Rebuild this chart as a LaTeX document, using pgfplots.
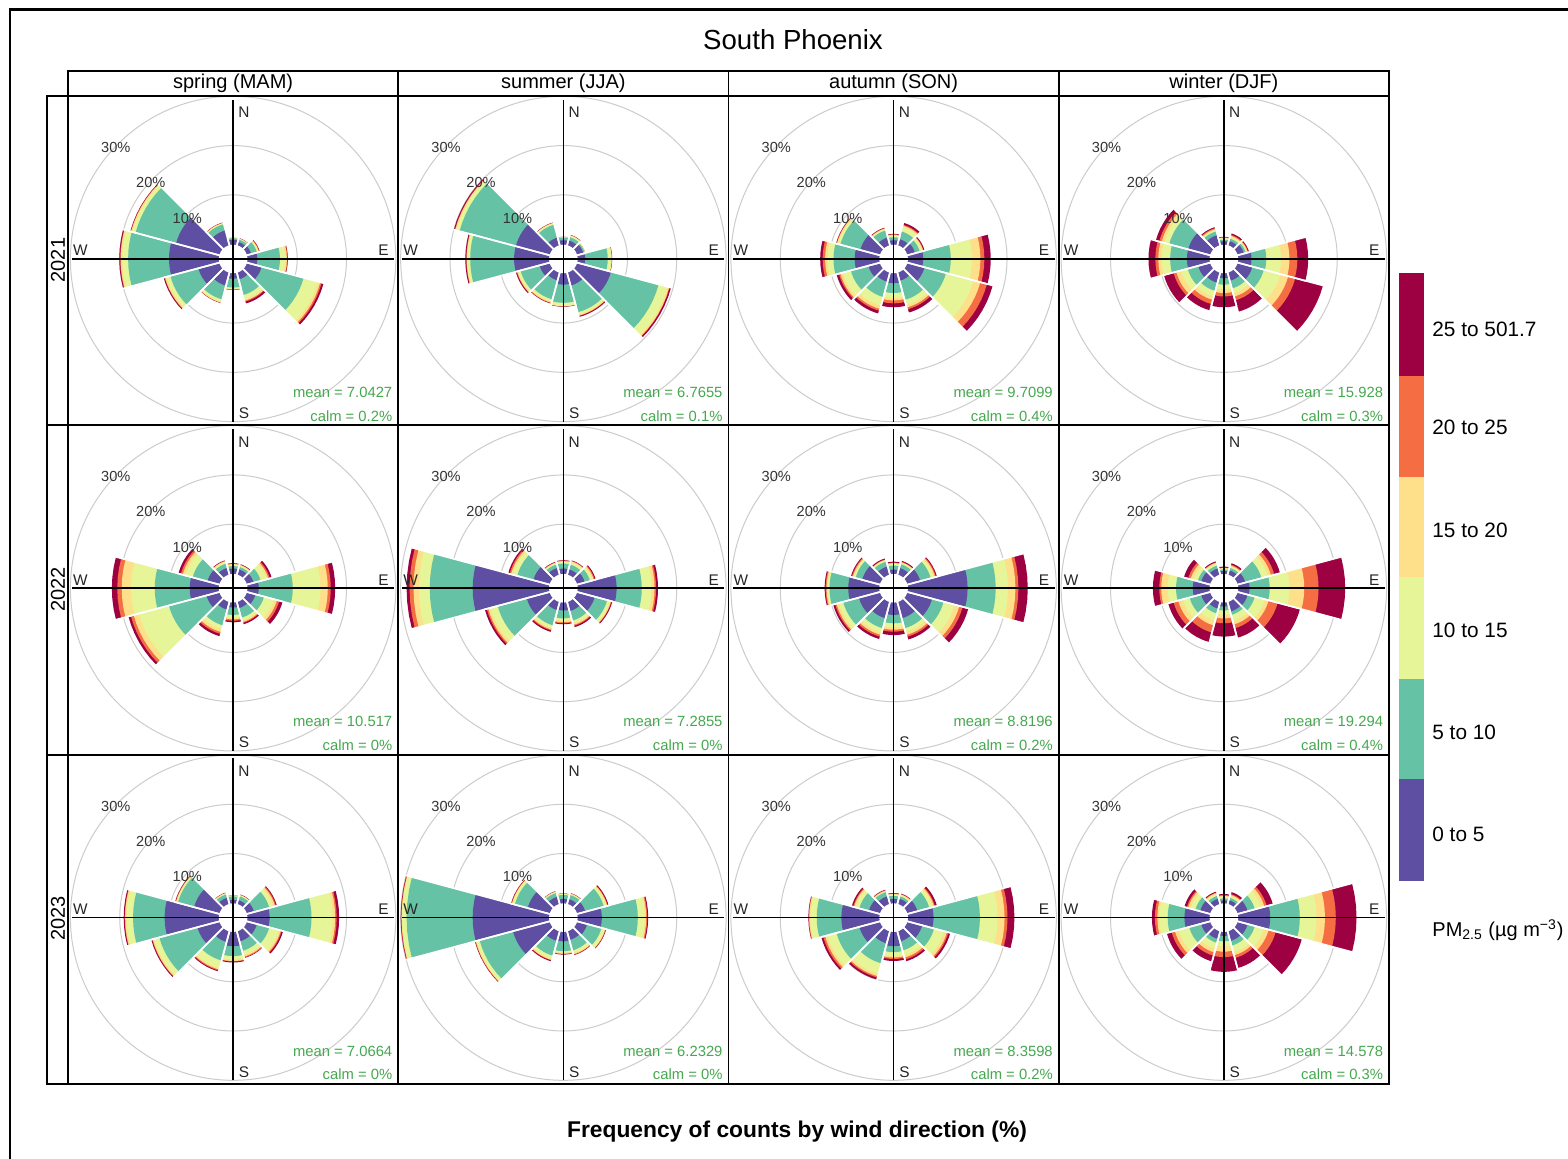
\documentclass[border=0pt]{standalone}
\usepackage{pgfplots}
\usepackage{pgfplotstable}
\pgfplotsset{compat=1.18}
\usepackage{fontspec}
\setmainfont{Liberation Sans}

\definecolor{cA}{HTML}{5E4FA2}
\definecolor{cB}{HTML}{66C2A5}
\definecolor{cC}{HTML}{E6F598}
\definecolor{cD}{HTML}{FEE08B}
\definecolor{cE}{HTML}{F46D43}
\definecolor{cF}{HTML}{9E0142}
\definecolor{statgreen}{HTML}{45A84F}
\definecolor{gridgray}{HTML}{CCCCCC}

% cumulative frequency (%) per wind sector: 0-5, 5-10, 10-15, 15-20, 20-25, 25-501.7
\pgfplotstableread{
d c1 c2 c3 c4 c5 c6
0 0.9 1.2 1.3 1.3 1.3 1.3
30 0.6 1.1 1.3 1.3 1.3 1.4
60 0.8 2.0 2.3 2.4 2.5 2.6
90 1.9 6.5 7.6 7.9 8.0 8.1
120 3.0 11.8 14.8 15.3 15.6 16.0
150 1.3 4.6 5.5 5.8 6.0 6.4
180 1.0 2.8 3.1 3.2 3.2 3.3
210 2.6 5.5 6.0 6.2 6.2 6.3
240 4.3 10.2 11.0 11.3 11.4 11.6
270 10.0 18.3 19.5 19.8 19.9 20.1
300 9.0 17.5 18.2 18.4 18.5 18.6
330 3.0 4.3 4.5 4.6 4.6 4.7
}\tSpA
\pgfplotstableread{
d c1 c2 c3 c4 c5 c6
0 0.8 1.3 1.4 1.4 1.5 1.5
30 0.9 1.6 1.9 2.0 2.0 2.1
60 1.2 1.5 1.6 1.6 1.6 1.6
90 1.4 6.0 6.7 6.8 6.8 6.9
120 7.0 17.0 18.9 19.2 19.3 19.6
150 2.6 8.2 8.7 8.9 9.0 9.2
180 2.2 5.9 6.5 6.6 6.6 6.7
210 1.5 5.5 6.0 6.2 6.3 6.4
240 2.0 6.0 6.5 6.7 6.8 7.0
270 7.0 15.9 16.5 16.6 16.7 16.9
300 7.0 18.8 19.5 19.7 19.8 20.0
330 1.5 4.2 4.5 4.6 4.6 4.7
}\tSuA
\pgfplotstableread{
d c1 c2 c3 c4 c5 c6
0 0.8 1.4 1.8 1.9 2.0 2.1
30 1.2 2.8 3.7 4.0 4.2 4.6
60 1.5 2.5 3.0 3.2 3.3 3.5
90 3.0 8.6 12.9 14.6 15.4 16.7
120 3.5 8.0 13.8 15.2 16.6 17.8
150 1.6 5.6 6.7 7.2 7.6 8.3
180 1.9 3.9 4.9 5.4 6.0 6.8
210 1.8 5.0 6.8 7.5 7.9 8.5
240 2.3 6.0 7.7 8.2 8.5 9.0
270 4.9 9.2 10.4 10.9 11.4 11.9
300 4.0 8.2 8.7 8.9 9.0 9.1
330 1.5 3.0 3.3 3.4 3.5 3.6
}\tAuA
\pgfplotstableread{
d c1 c2 c3 c4 c5 c6
0 0.6 0.9 1.1 1.3 1.4 1.5
30 0.8 1.3 1.6 1.9 2.1 2.4
60 1.2 1.6 1.8 2.0 2.1 2.3
90 2.6 5.6 8.6 10.3 11.9 14.1
120 3.0 5.4 8.9 10.5 12.0 17.8
150 1.6 3.2 4.2 4.9 5.7 8.1
180 0.9 2.2 3.2 3.9 4.6 6.8
210 2.0 3.7 4.9 5.6 6.5 7.8
240 2.4 4.6 6.0 7.0 7.6 9.6
270 4.5 7.9 9.6 10.3 10.9 12.3
300 4.5 8.5 9.5 10.1 10.6 11.3
330 2.0 2.8 3.1 3.3 3.5 3.7
}\tWiA
\pgfplotstableread{
d c1 c2 c3 c4 c5 c6
0 1.0 1.5 1.8 1.9 2.0 2.1
30 1.0 1.5 1.8 1.9 2.0 2.1
60 1.3 2.8 4.0 4.4 4.7 5.1
90 2.2 9.1 14.7 16.2 16.8 17.7
120 1.7 3.5 5.6 6.2 6.7 7.4
150 1.2 3.2 3.8 4.1 4.3 4.6
180 0.9 2.4 3.0 3.3 3.6 3.9
210 1.5 4.8 5.6 6.2 6.6 7.1
240 2.6 10.5 16.8 17.9 18.5 19.0
270 5.8 12.9 17.7 19.6 20.5 21.6
300 2.4 5.5 7.0 7.6 8.0 8.5
330 1.3 2.2 2.6 2.7 2.8 2.9
}\tSpB
\pgfplotstableread{
d c1 c2 c3 c4 c5 c6
0 1.0 2.0 2.4 2.5 2.6 2.7
30 1.0 2.0 2.5 2.7 2.8 2.9
60 1.5 2.6 3.2 3.4 3.6 3.8
90 7.8 12.9 14.9 15.5 15.8 16.2
120 3.6 6.2 6.8 7.0 7.1 7.3
150 1.8 3.8 4.4 4.7 4.9 5.2
180 1.5 3.1 3.6 3.9 4.1 4.3
210 1.6 4.8 5.4 5.7 5.9 6.2
240 4.7 10.8 12.3 12.8 13.1 13.5
270 15.4 24.1 26.3 27.4 28.2 28.8
300 3.3 6.7 7.6 8.0 8.3 8.6
330 1.3 2.0 2.3 2.4 2.5 2.6
}\tSuB
\pgfplotstableread{
d c1 c2 c3 c4 c5 c6
0 0.8 1.6 2.0 2.1 2.2 2.4
30 1.3 2.1 2.4 2.5 2.6 2.8
60 2.6 4.8 5.4 5.7 5.9 6.1
90 12.0 17.7 20.2 21.7 22.3 24.2
120 5.1 7.5 9.8 10.8 11.5 12.7
150 3.3 5.4 6.2 6.8 7.2 7.8
180 2.4 4.1 4.9 5.4 5.8 6.5
210 3.3 5.4 6.3 6.8 7.2 7.7
240 4.3 7.6 8.5 9.0 9.3 9.7
270 6.2 10.0 10.4 10.6 10.8 11.0
300 3.6 5.0 5.4 5.6 5.8 6.0
330 1.6 2.6 2.9 3.0 3.1 3.3
}\tAuB
\pgfplotstableread{
d c1 c2 c3 c4 c5 c6
0 0.5 0.8 1.0 1.1 1.2 1.4
30 0.8 1.3 1.6 1.8 2.0 2.3
60 1.5 4.9 6.2 6.9 7.6 8.8
90 2.2 6.3 10.3 13.3 16.2 21.6
120 2.0 3.5 5.6 6.4 8.3 13.0
150 1.9 2.6 3.9 4.6 5.4 7.4
180 0.7 1.5 2.4 3.1 4.1 6.8
210 1.3 2.3 3.8 4.8 6.3 8.3
240 1.8 4.2 5.6 6.6 7.6 8.7
270 3.3 6.7 8.4 9.7 10.1 11.4
300 1.8 2.5 3.4 4.0 4.5 5.4
330 1.2 1.8 2.2 2.4 2.5 2.7
}\tWiB
\pgfplotstableread{
d c1 c2 c3 c4 c5 c6
0 0.6 1.3 1.4 1.5 1.5 1.5
30 0.7 1.5 1.7 1.8 1.8 1.9
60 1.4 4.6 5.4 5.8 6.0 6.2
90 4.4 12.9 17.2 17.7 18.0 18.5
120 2.0 4.6 6.6 7.0 7.2 7.5
150 2.0 4.0 4.9 5.2 5.4 5.5
180 2.8 4.8 5.5 5.8 5.9 6.1
210 2.1 6.0 7.6 7.9 8.1 8.3
240 4.5 12.5 13.6 13.9 14.0 14.2
270 10.9 17.3 18.6 18.9 19.0 19.2
300 5.2 8.6 8.9 9.0 9.1 9.2
330 1.2 1.9 2.1 2.2 2.2 2.3
}\tSpC
\pgfplotstableread{
d c1 c2 c3 c4 c5 c6
0 0.8 1.6 1.8 1.8 1.9 1.9
30 0.9 1.8 2.0 2.1 2.1 2.2
60 1.6 5.5 6.0 6.2 6.3 6.5
90 4.8 12.1 13.5 13.8 14.0 14.2
120 2.0 5.0 5.7 5.8 5.9 6.0
150 1.7 3.9 4.5 4.7 4.8 4.9
180 1.8 3.8 4.1 4.3 4.4 4.5
210 1.9 5.0 5.7 5.9 6.0 6.2
240 7.6 14.6 15.3 15.4 15.5 15.6
270 15.4 28.8 29.7 29.8 29.9 30.0
300 4.5 7.2 7.7 7.8 7.9 8.0
330 1.4 2.2 2.4 2.5 2.5 2.6
}\tSuC
\pgfplotstableread{
d c1 c2 c3 c4 c5 c6
0 0.8 1.4 1.7 1.8 1.9 2.0
30 1.0 1.5 1.8 1.9 2.0 2.1
60 2.0 4.5 5.2 5.5 5.7 6.1
90 5.1 14.5 18.1 19.5 20.1 21.5
120 3.0 5.5 7.6 8.2 8.5 8.9
150 2.0 3.9 4.9 5.4 5.8 6.2
180 2.8 4.0 4.8 5.1 5.4 5.8
210 2.4 6.6 8.8 9.3 9.6 10.0
240 4.2 9.0 10.9 11.4 11.8 12.2
270 7.6 12.6 13.9 14.1 14.2 14.3
300 2.2 4.2 5.0 5.3 5.5 5.8
330 1.5 2.4 2.6 2.7 2.8 2.9
}\tAuC
\pgfplotstableread{
d c1 c2 c3 c4 c5 c6
0 0.5 0.9 1.2 1.4 1.6 1.8
30 0.7 1.2 1.5 1.8 2.0 2.4
60 2.0 3.5 4.8 5.5 6.0 7.3
90 6.4 12.4 15.8 17.5 19.7 23.9
120 2.0 3.5 5.4 6.4 7.9 13.4
150 1.9 2.9 4.3 4.9 5.5 7.6
180 0.7 1.8 2.8 3.9 5.0 8.0
210 1.5 2.3 3.5 4.3 5.0 6.2
240 1.8 4.3 6.5 7.3 8.0 9.0
270 5.0 8.4 10.1 10.5 11.0 11.6
300 2.0 3.0 4.0 4.5 4.8 5.3
330 1.0 1.6 2.0 2.2 2.3 2.5
}\tWiC

\pgfplotsset{rose/.style={width=165.125pt,height=164.667pt,scale only axis,
  xmin=-33.49,xmax=33.49,ymin=-33.75,ymax=33.06,
  xtick=\empty,ytick=\empty,axis line style={line width=0.9pt},
  axis on top,anchor=north west,clip=true}}

\tikzset{lab/.style={font=\fontsize{7.3}{8}\selectfont,text=black!80,inner sep=0pt},
  dirlab/.style={font=\fontsize{7.7}{8}\selectfont,text=black!85,inner sep=0pt},
  stat/.style={font=\fontsize{7.4}{8}\selectfont,text=statgreen,inner sep=0pt}}

\newcommand\drawrose[1]{%
 \foreach \rr in {0,...,11}{%
  \pgfplotstablegetelem{\rr}{d}\of#1\let\dd\pgfplotsretval
  \pgfmathsetmacro\wA{90-\dd-15}%
  \pgfmathsetmacro\wB{90-\dd-10}%
  \pgfmathsetmacro\wC{90-\dd-5}%
  \pgfmathsetmacro\wD{90-\dd}%
  \pgfmathsetmacro\wE{90-\dd+5}%
  \pgfmathsetmacro\wF{90-\dd+10}%
  \pgfmathsetmacro\wG{90-\dd+15}%
  \foreach \cc/\col in {c6/cF,c5/cE,c4/cD,c3/cC,c2/cB,c1/cA}{%
   \pgfplotstablegetelem{\rr}{\cc}\of#1
   \pgfmathsetmacro\R{\pgfplotsretval+3}%
   \edef\tmp{\noexpand\addplot[data cs=polar,fill=\col,draw=none] coordinates {(0,0) (\wA,\R) (\wB,\R) (\wC,\R) (\wD,\R) (\wE,\R) (\wF,\R) (\wG,\R)};}%
   \tmp
  }%
 }%
}
\newcommand\drawseps[1]{%
 \foreach \rr in {0,...,11}{%
  \pgfplotstablegetelem{\rr}{d}\of#1\let\dd\pgfplotsretval
  \pgfplotstablegetelem{\rr}{c6}\of#1
  \pgfmathsetmacro\R{\pgfplotsretval+3.1}%
  \pgfmathsetmacro\wA{90-\dd-15}%
  \pgfmathsetmacro\wG{90-\dd+15}%
  \edef\tmp{\noexpand\addplot[data cs=polar,white,line width=0.8pt] coordinates {(\wA,0) (\wA,\R)};
   \noexpand\addplot[data cs=polar,white,line width=0.8pt] coordinates {(\wG,0) (\wG,\R)};}%
  \tmp
 }%
}

\newcommand\panel[5]{%
\begin{axis}[rose,at={({#1*0.5pt},{-#2*0.5pt})}]
 \draw[gridgray,line width=0.5pt] (axis cs:0,0) circle[radius=13];
 \draw[gridgray,line width=0.5pt] (axis cs:0,0) circle[radius=23];
 \draw[gridgray,line width=0.5pt] (axis cs:0,0) circle[radius=33];
 \drawrose{#3}
 \drawseps{#3}
 \fill[white] (axis cs:0,0) circle[radius=2.9];
 \draw[line width=0.85pt] (axis cs:-32.66,0) -- (axis cs:32.66,0);
 \draw[line width=0.85pt] (axis cs:0,-33.0) -- (axis cs:0,32.3);
 \node[lab] at (axis cs:-23.8,22.6) {30\%};
 \node[lab] at (axis cs:-16.7,15.5) {20\%};
 \node[lab] at (axis cs:-9.3,8.3) {10\%};
 \node[dirlab] at (axis cs:2.2,29.7) {N};
 \node[dirlab] at (axis cs:30.5,1.7) {E};
 \node[dirlab] at (axis cs:2.2,-31.3) {S};
 \node[dirlab] at (axis cs:-31.0,1.7) {W};
 \node[stat,anchor=east] at (axis cs:32.35,-27.1) {mean = #4};
 \node[stat,anchor=east] at (axis cs:32.35,-31.8) {calm = #5\%};
\end{axis}}

\begin{document}
\begin{tikzpicture}[x=0.5pt,y=0.5pt]
\path[fill=white] (0,0) rectangle (1568,-1159);
% outer frame
\draw[line width=1.15pt] (10,-1159) -- (10,-9.5) -- (1568,-9.5);
% title
\node[font=\fontsize{13.8}{16}\selectfont] at (793,-40) {South Phoenix};
% strips
\foreach \x/\t in {68/spring (MAM),398.25/summer (JJA),728.5/autumn (SON),1058.75/winter (DJF)}{
  \draw[line width=0.9pt] (\x,-71) rectangle (\x+330.25,-96);
  \node[font=\fontsize{10}{12}\selectfont] at (\x+165.1,-83.5) {\t};
}
\foreach \y/\t in {96/2021,425.33/2022,754.67/2023}{
  \draw[line width=0.9pt] (47,-\y) rectangle (68,-\y-329.33);
  \node[font=\fontsize{10}{12}\selectfont,rotate=90] at (58,-\y-164) {\t};
}
% panels
\panel{68}{96}{\tSpA}{7.0427}{0.2}
\panel{398.25}{96}{\tSuA}{6.7655}{0.1}
\panel{728.5}{96}{\tAuA}{9.7099}{0.4}
\panel{1058.75}{96}{\tWiA}{15.928}{0.3}
\panel{68}{425.33}{\tSpB}{10.517}{0}
\panel{398.25}{425.33}{\tSuB}{7.2855}{0}
\panel{728.5}{425.33}{\tAuB}{8.8196}{0.2}
\panel{1058.75}{425.33}{\tWiB}{19.294}{0.4}
\panel{68}{754.67}{\tSpC}{7.0664}{0}
\panel{398.25}{754.67}{\tSuC}{6.2329}{0}
\panel{728.5}{754.67}{\tAuC}{8.3598}{0.2}
\panel{1058.75}{754.67}{\tWiC}{14.578}{0.3}
% colour key
\fill[cF] (1399,-273.4) rectangle (1424,-376.2);
\fill[cE] (1399,-376.2) rectangle (1424,-476.7);
\fill[cD] (1399,-476.7) rectangle (1424,-577.2);
\fill[cC] (1399,-577.2) rectangle (1424,-678.7);
\fill[cB] (1399,-678.7) rectangle (1424,-779.2);
\fill[cA] (1399,-779.2) rectangle (1424,-881);
\foreach \y/\t in {329/25 to 501.7,427.6/20 to 25,530.3/15 to 20,630/10 to 15,732.3/5 to 10,834/0 to 5}{
  \node[font=\fontsize{10.4}{12}\selectfont,anchor=west,inner sep=0pt] at (1432,-\y) {\t};
}
\node[font=\fontsize{10}{12}\selectfont,anchor=west,inner sep=0pt] at (1432,-930) {PM\textsubscript{2.5} (µg m\textsuperscript{−3})};
% x label
\node[font=\bfseries\fontsize{11.4}{13}\selectfont] at (797,-1132) {Frequency of counts by wind direction (\%)};
\pgfresetboundingbox
\useasboundingbox (0,0) rectangle (1568,-1159);
\end{tikzpicture}
\end{document}
